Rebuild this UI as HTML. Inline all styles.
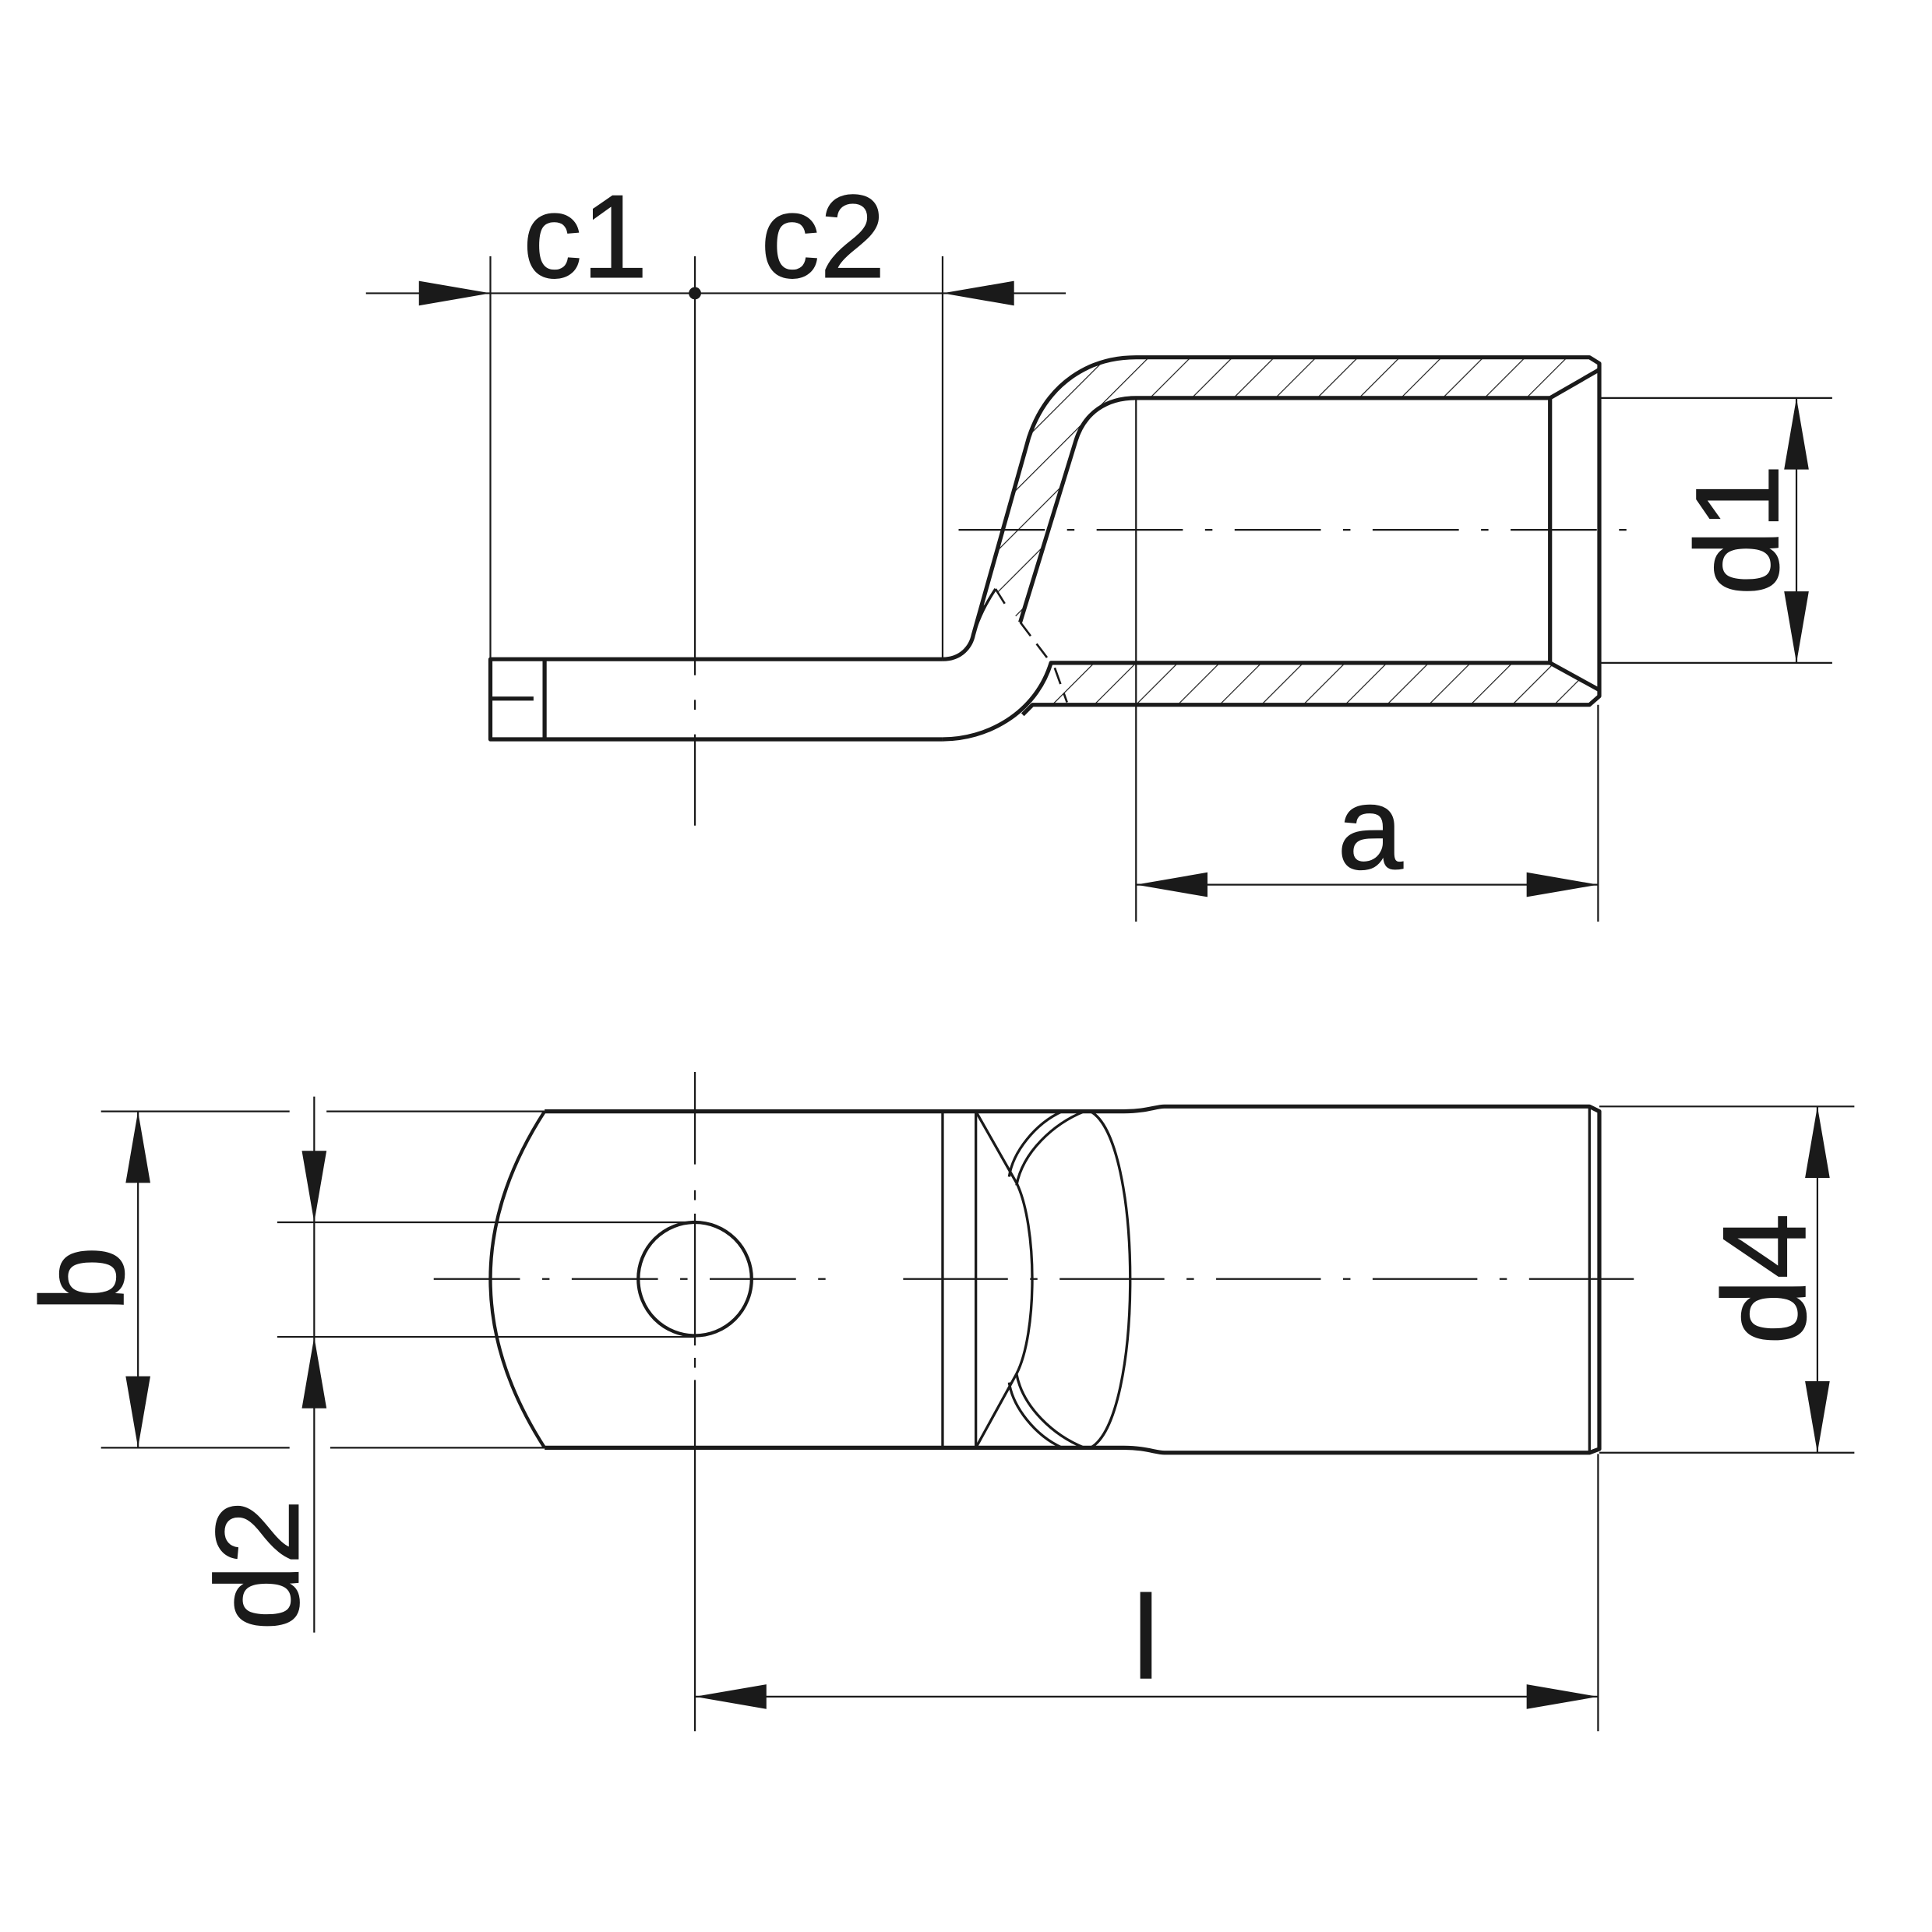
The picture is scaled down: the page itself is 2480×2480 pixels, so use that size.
<!DOCTYPE html>
<html><head><meta charset="utf-8"><style>html,body{margin:0;padding:0;background:#fff}svg{display:block}</style></head><body>
<svg width="2480" height="2480" viewBox="0 0 1568 1568" xmlns="http://www.w3.org/2000/svg">
<defs>
<pattern id="h" patternUnits="userSpaceOnUse" width="24" height="24" patternTransform="rotate(45)">
<line x1="0" y1="0" x2="0" y2="24" stroke="#1a1a1a" stroke-width="1.5"/>
</pattern>
<g id="ar"><path d="M0,0 L-58,-10 L-58,10 Z" fill="#1a1a1a"/></g>
</defs>
<g fill="none" stroke="#1a1a1a" stroke-width="1.4">
<line x1="297" y1="238" x2="865" y2="238"/>
<line x1="398" y1="208" x2="398" y2="600"/>
<line x1="765" y1="208" x2="765" y2="535"/>
<line x1="564" y1="208" x2="564" y2="548"/>
<line x1="564" y1="568" x2="564" y2="576"/>
<line x1="564" y1="596" x2="564" y2="670"/>
<line x1="1298" y1="323" x2="1487" y2="323"/>
<line x1="1298" y1="538" x2="1487" y2="538"/>
<line x1="1458" y1="323" x2="1458" y2="538"/>
<line x1="922" y1="323" x2="922" y2="748"/>
<line x1="1297" y1="572" x2="1297" y2="748"/>
<line x1="922" y1="718" x2="1297" y2="718"/>
<line x1="778" y1="430" x2="1335" y2="430" stroke-dasharray="70,18,6,18"/>
<line x1="82" y1="902" x2="235" y2="902"/>
<line x1="82" y1="1175" x2="235" y2="1175"/>
<line x1="265" y1="902" x2="442" y2="902"/>
<line x1="268" y1="1175" x2="442" y2="1175"/>
<line x1="112" y1="902" x2="112" y2="1175"/>
<line x1="225" y1="992" x2="564" y2="992"/>
<line x1="225" y1="1085" x2="564" y2="1085"/>
<line x1="255" y1="890" x2="255" y2="1325"/>
<line x1="1298" y1="898" x2="1505" y2="898"/>
<line x1="1298" y1="1179" x2="1505" y2="1179"/>
<line x1="1475" y1="898" x2="1475" y2="1179"/>
<line x1="564" y1="1377" x2="1297" y2="1377"/>
<line x1="1297" y1="1180" x2="1297" y2="1405"/>
<line x1="564" y1="870" x2="564" y2="945"/>
<line x1="564" y1="966" x2="564" y2="974"/>
<line x1="564" y1="985" x2="564" y2="1092"/>
<line x1="564" y1="1102" x2="564" y2="1110"/>
<line x1="564" y1="1120" x2="564" y2="1405"/>
<line x1="352" y1="1038" x2="680" y2="1038" stroke-dasharray="70,18,6,18"/>
<line x1="733" y1="1038" x2="1330" y2="1038" stroke-dasharray="85,18,6,18"/>
</g>
<use href="#ar" transform="translate(398,238)"/>
<use href="#ar" transform="translate(765,238) rotate(180)"/>
<circle cx="564" cy="238" r="5" fill="#1a1a1a"/>
<use href="#ar" transform="translate(1458,323) rotate(-90)"/>
<use href="#ar" transform="translate(1458,538) rotate(90)"/>
<use href="#ar" transform="translate(922,718) rotate(180)"/>
<use href="#ar" transform="translate(1297,718)"/>
<use href="#ar" transform="translate(112,902) rotate(-90)"/>
<use href="#ar" transform="translate(112,1175) rotate(90)"/>
<use href="#ar" transform="translate(255,992) rotate(90)"/>
<use href="#ar" transform="translate(255,1085) rotate(-90)"/>
<use href="#ar" transform="translate(1475,898) rotate(-90)"/>
<use href="#ar" transform="translate(1475,1179) rotate(90)"/>
<use href="#ar" transform="translate(564,1377) rotate(180)"/>
<use href="#ar" transform="translate(1297,1377)"/>
<path d="M790,515 L835,355 C850,310 885,290 922,290 L1290,290 L1298,295 L1298,300 L1258,323 L922,323 C898,323 880,335 873,358 L828,505 L808,478 Z" fill="url(#h)"/>
<path d="M853,538 L1258,538 L1298,560 L1298,565 L1290,572 L838,572 Z" fill="url(#h)"/>
<g fill="none" stroke="#1a1a1a" stroke-width="3.3" stroke-linejoin="round">
<path d="M765,535 L398,535 L398,600 L765,600"/>
<line x1="442" y1="535" x2="442" y2="600"/>
<line x1="398" y1="567" x2="433" y2="567"/>
<path d="M765,535 C780,535 788,525 790,515 L835,355 C850,310 885,290 922,290 L1290,290 L1298,295 L1298,565 L1290,572 L838,572 C834,576 832,578 830,580"/>
<path d="M765,600 C800,600 840,580 853,538 L1258,538 L1298,560"/>
<path d="M1298,300 L1258,323 L922,323 C898,323 880,335 873,358 L828,505"/>
<line x1="1258" y1="323" x2="1258" y2="538"/>
<path d="M790,515 C795,500 800,490 808,478" stroke-width="2.2"/>
</g>
<g fill="none" stroke="#1a1a1a" stroke-width="1.7" stroke-dasharray="14,8">
<path d="M808,478 L818,494"/>
<path d="M828,505 L853,538"/>
<path d="M856,542 L866,570"/>
</g>
<g fill="none" stroke="#1a1a1a" stroke-width="3.3" stroke-linejoin="round">
<path d="M442,902 L912,902 C930,902 938,898 945,898 L1290,898 L1298,902 L1298,1176 L1290,1179 L945,1179 C938,1179 930,1175 912,1175 L442,1175"/>
<path d="M442,902 Q354,1038 442,1175" stroke-width="2.7"/>
<circle cx="564" cy="1038" r="46" stroke-width="2.7"/>
</g>
<g fill="none" stroke="#1a1a1a" stroke-width="2.1">
<line x1="765" y1="902" x2="765" y2="1175"/>
<line x1="792" y1="902" x2="792" y2="1175"/>
<line x1="1290" y1="898" x2="1290" y2="1179"/>
<path d="M792,902 L825,960 C842,995 842,1082 825,1115 L792,1175"/>
<path d="M862,902 C840,912 822,935 819,955"/>
<path d="M880,902 C855,912 830,935 825,962"/>
<path d="M862,1175 C840,1165 822,1142 819,1122"/>
<path d="M880,1175 C855,1165 830,1142 825,1115"/>
<path d="M885,902 C928,925 928,1152 885,1175"/>
</g>
<g font-family="Liberation Sans, sans-serif" font-size="96" fill="#1a1a1a" stroke="#1a1a1a" stroke-width="0.8">
<text x="475" y="225" text-anchor="middle">c1</text>
<text x="668" y="225" text-anchor="middle">c2</text>
<text x="1112" y="705" text-anchor="middle">a</text>
<text x="930" y="1362" text-anchor="middle">l</text>
<text transform="translate(1443,430) rotate(-90)" text-anchor="middle">d1</text>
<text transform="translate(100,1038) rotate(-90)" text-anchor="middle">b</text>
<text transform="translate(242,1270) rotate(-90)" text-anchor="middle">d2</text>
<text transform="translate(1465,1038) rotate(-90)" text-anchor="middle">d4</text>
</g>
</svg>
</body></html>
